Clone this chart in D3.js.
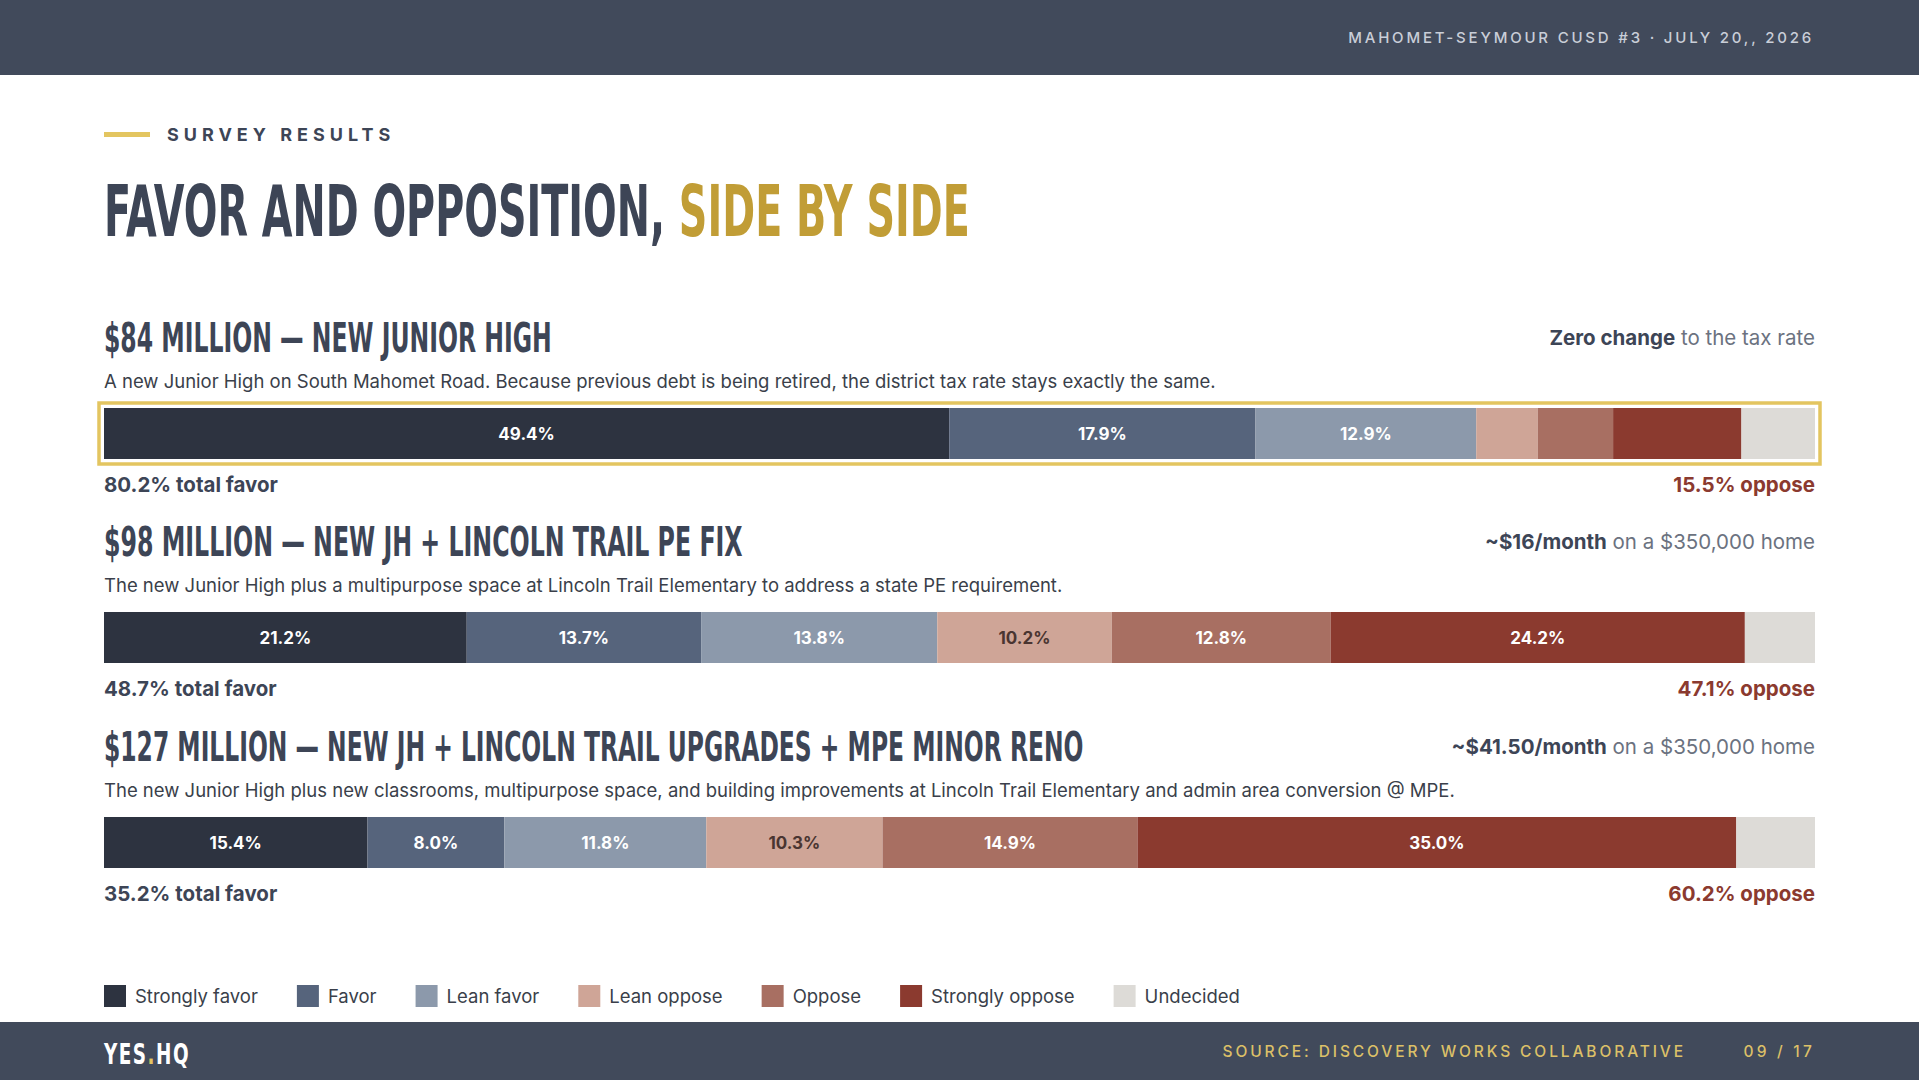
<!DOCTYPE html>
<html lang="en">
<head>
<meta charset="utf-8">
<title>Favor and opposition, side by side</title>
<script src="https://d3js.org/d3.v7.min.js"></script>
<style>
  body { margin: 0; background: #fff; font-family: Inter, "Noto Sans", sans-serif; }
  svg { display: block; }
  .cond { font-family: "Liberation Sans Narrow", "DejaVu Sans Condensed", "Roboto", sans-serif; font-weight: 700; }
</style>
</head>
<body>
<script>
  // ---------------- data ----------------
  const categories = ["Strongly favor", "Favor", "Lean favor", "Lean oppose", "Oppose", "Strongly oppose", "Undecided"];
  const categoryColors = ["#2d3340", "#56647c", "#8c99ab", "#cfa597", "#a86f62", "#8b3a2f", "#dddbd7"];

  const proposalTitles = [
    "$84 MILLION — NEW JUNIOR HIGH",
    "$98 MILLION — NEW JH + LINCOLN TRAIL PE FIX",
    "$127 MILLION — NEW JH + LINCOLN TRAIL UPGRADES + MPE MINOR RENO"
  ];
  const proposalDescriptions = [
    "A new Junior High on South Mahomet Road. Because previous debt is being retired, the district tax rate stays exactly the same.",
    "The new Junior High plus a multipurpose space at Lincoln Trail Elementary to address a state PE requirement.",
    "The new Junior High plus new classrooms, multipurpose space, and building improvements at Lincoln Trail Elementary and admin area conversion @ MPE."
  ];
  const costBold = ["Zero change", "~$16/month", "~$41.50/month"];
  const costRest = [" to the tax rate", " on a $350,000 home", " on a $350,000 home"];

  const values84 = [49.4, 17.9, 12.9, 3.6, 4.4, 7.5, 4.3];
  const values98 = [21.2, 13.7, 13.8, 10.2, 12.8, 24.2, 4.1];
  const values127 = [15.4, 8.0, 11.8, 10.3, 14.9, 35.0, 4.6];
  const seriesValues = [values84, values98, values127];

  const totalFavor = [80.2, 48.7, 35.2];
  const totalOppose = [15.5, 47.1, 60.2];
  const highlighted = [true, false, false];

  // ---------------- layout ----------------
  const W = 1919, H = 1080;
  const left = 104, right = 1815;
  const navy = "#414a5b";
  const ink = "#3d4556";
  const gold = "#c19d36";
  const goldLight = "#e3c560";
  const rust = "#8b3a2f";

  const svg = d3.select("body").append("svg")
    .attr("width", W).attr("height", H);

  // condensed display type: natural width squeezed horizontally to a target width
  function condensed(parent, x, y, size, parts, width, spacing) {
    const g = parent.append("g").attr("transform", `translate(${x},${y})`);
    const t = g.append("text").attr("class", "cond")
      .attr("x", 0).attr("y", 0).attr("font-size", size)
      .attr("letter-spacing", spacing || 0);
    parts.forEach(p => t.append("tspan").attr("fill", p.color).text(p.text));
    const natural = t.node().getComputedTextLength();
    g.attr("transform", `translate(${x},${y}) scale(${width / natural},1)`);
    return g;
  }

  // header band
  svg.append("rect").attr("x", 0).attr("y", 0).attr("width", W).attr("height", 75).attr("fill", navy);
  svg.append("text")
    .attr("x", right - 1).attr("y", 43)
    .attr("text-anchor", "end")
    .attr("font-size", 15).attr("letter-spacing", 2.8)
    .attr("fill", "#c9ced8").attr("font-weight", 500)
    .text("MAHOMET-SEYMOUR CUSD #3 · JULY 20,, 2026");

  // footer band
  svg.append("rect").attr("x", 0).attr("y", 1022).attr("width", W).attr("height", 58).attr("fill", navy);
  condensed(svg, left, 1064, 28, [
    { text: "YES", color: "#fff" },
    { text: ".", color: goldLight },
    { text: "HQ", color: "#fff" }
  ], 86, 2);
  svg.append("text")
    .attr("x", 1686).attr("y", 1057).attr("text-anchor", "end")
    .attr("font-size", 15.5).attr("letter-spacing", 2.9).attr("fill", "#dcc068").attr("font-weight", 500)
    .text("SOURCE: DISCOVERY WORKS COLLABORATIVE");
  svg.append("text")
    .attr("x", right).attr("y", 1057).attr("text-anchor", "end")
    .attr("font-size", 15.5).attr("letter-spacing", 3.2).attr("fill", "#dcc068").attr("font-weight", 500)
    .text("09 / 17");

  // eyebrow
  svg.append("rect").attr("x", left).attr("y", 132).attr("width", 46).attr("height", 5).attr("fill", goldLight);
  svg.append("text")
    .attr("x", 167).attr("y", 141)
    .attr("font-size", 18).attr("letter-spacing", 5.0).attr("font-weight", 700).attr("fill", ink)
    .text("SURVEY RESULTS");

  condensed(svg, left, 236, 72, [
    { text: "FAVOR AND OPPOSITION, ", color: ink },
    { text: "SIDE BY SIDE", color: gold }
  ], 866);

  // ---------------- bars ----------------
  const x = d3.scaleLinear().domain([0, 100]).range([left, right]);
  const color = d3.scaleOrdinal().domain(categories).range(categoryColors);

  const sectionTop = [322, 526, 731];
  const titleWidths = [448, 639, 980];
  const barH = 51;

  seriesValues.forEach((vals, i) => {
    const top = sectionTop[i];
    const g = svg.append("g");

    condensed(g, left, top + 30, 41, [{ text: proposalTitles[i], color: ink }], titleWidths[i]);

    const cost = g.append("text")
      .attr("x", right).attr("y", top + 23).attr("text-anchor", "end")
      .attr("font-size", 20.5).attr("fill", "#6b7280");
    cost.append("tspan").attr("font-weight", 700).attr("fill", ink).text(costBold[i]);
    cost.append("tspan").text(costRest[i]);

    g.append("text")
      .attr("x", left).attr("y", top + 66)
      .attr("font-size", 18.5).attr("fill", "#3a3f4a")
      .text(proposalDescriptions[i]);

    const barY = top + 86;
    let acc = 0;
    const segs = vals.map((v, k) => {
      const s = { cat: categories[k], v, x0: acc, x1: acc + v };
      acc += v;
      return s;
    });

    if (highlighted[i]) {
      g.append("rect")
        .attr("x", x(0) - 5).attr("y", barY - 5)
        .attr("width", x(100) - x(0) + 10).attr("height", barH + 10)
        .attr("fill", "none").attr("stroke", goldLight).attr("stroke-width", 3.5);
    }

    g.selectAll("rect.seg").data(segs).join("rect")
      .attr("class", "seg")
      .attr("x", d => x(d.x0)).attr("y", barY)
      .attr("width", d => x(d.x1) - x(d.x0)).attr("height", barH)
      .attr("fill", d => color(d.cat));

    g.selectAll("text.lbl").data(segs.filter(d => d.v >= 8 && d.cat !== "Undecided")).join("text")
      .attr("class", "lbl")
      .attr("x", d => (x(d.x0) + x(d.x1)) / 2).attr("y", barY + barH / 2 + 6)
      .attr("text-anchor", "middle")
      .attr("font-size", 17).attr("font-weight", 700)
      .attr("fill", d => d.cat === "Lean oppose" ? "#4a3531" : "#fff")
      .text(d => d.v.toFixed(1) + "%");

    g.append("text")
      .attr("x", left).attr("y", barY + barH + 33)
      .attr("font-size", 20.5).attr("font-weight", 700).attr("fill", ink)
      .text(totalFavor[i].toFixed(1) + "% total favor");
    g.append("text")
      .attr("x", right).attr("y", barY + barH + 33).attr("text-anchor", "end")
      .attr("font-size", 20.5).attr("font-weight", 700).attr("fill", rust)
      .text(totalOppose[i].toFixed(1) + "% oppose");
  });

  // ---------------- legend ----------------
  const legend = svg.append("g");
  let lx = left;
  categories.forEach(c => {
    const item = legend.append("g").attr("transform", `translate(${lx},0)`);
    item.append("rect").attr("x", 0).attr("y", 985).attr("width", 22).attr("height", 22).attr("fill", color(c));
    const t = item.append("text").attr("x", 31).attr("y", 1003)
      .attr("font-size", 18.5).attr("fill", "#3a3f4a").text(c);
    lx += 31 + t.node().getComputedTextLength() + 39;
  });
</script>
</body>
</html>
